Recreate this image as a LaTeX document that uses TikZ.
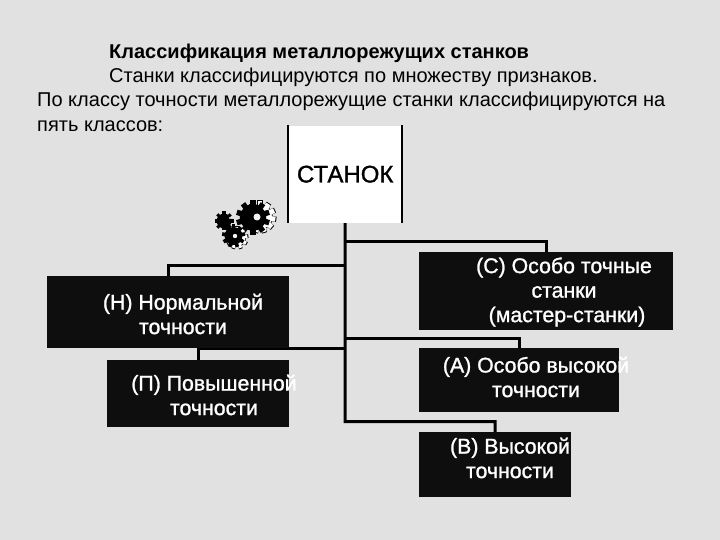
\documentclass[tikz,border=0pt]{standalone}
\usepackage{fontspec}
\setmainfont{Liberation Sans}
\newfontfamily\heavyfont[FakeBold=1.2]{Liberation Sans}
\usetikzlibrary{backgrounds}
\definecolor{bgc}{HTML}{E1E1E1}
\definecolor{boxc}{HTML}{0E0E0E}
\newcommand{\gearshape}[5]{% x y r nteeth fill
  \foreach \a in {1,...,#4}{
    \fill[#5,rotate around={\a*360/#4:(#1,#2)}] (#1-0.16*#3,#2-#3) rectangle (#1+0.16*#3,#2-0.7*#3);
  }
  \fill[#5] (#1,#2) circle ({0.78*#3});
}
\tikzset{
  x=1pt,y=-1pt,
  conn/.style={draw=black,line width=3pt},
  darkbox/.style={fill=boxc,draw=none,minimum width=#1,inner sep=0pt,anchor=north west,text=white},
  bodyline/.style={anchor=base west,inner sep=0pt,font=\fontsize{20}{24}\selectfont,text=black},
  boxtext/.style={anchor=center,inner sep=0pt,text=white,align=center,font=\heavyfont\fontsize{21.3}{24.5}\selectfont},
}
\begin{document}
\begin{tikzpicture}
\useasboundingbox (0,0) rectangle (720,540);
% title text
\node[bodyline,font=\bfseries\fontsize{20}{24}\selectfont] (t1) at (109,59) {Классификация металлорежущих станков};
\node[bodyline] (t2) at (109,83) {Станки классифицируются по множеству признаков.};
\node[bodyline] (t3) at (37,107) {По классу точности металлорежущие станки классифицируются на};
\node[bodyline] (t4) at (37,131.5) {пять классов:};
% root
\node[fill=white,minimum width=112pt,minimum height=97pt,inner sep=0pt,anchor=north west,font=\heavyfont\fontsize{24}{28}\selectfont] (stanok) at (289,125.5) {СТАНОК};
\draw[line width=2pt] ([xshift=-1pt]stanok.north west) -- ([xshift=-1pt]stanok.south west);
\draw[line width=2pt] ([xshift=1pt]stanok.north east) -- ([xshift=1pt]stanok.south east);
% boxes
\node[darkbox=242pt,minimum height=72pt] (nH) at (47,276) {};
\node[darkbox=182pt,minimum height=67pt] (nP) at (107,360) {};
\node[darkbox=254pt,minimum height=78pt] (nC) at (419,252) {};
\node[darkbox=200pt,minimum height=64pt] (nA) at (419,348) {};
\node[darkbox=152pt,minimum height=65pt] (nB) at (419,432) {};
% box texts
\node[boxtext] (tH) at (183,314) {(Н) Нормальной\\точности};
\node[boxtext] (tP) at (214,395) {(П) Повышенной\\точности};
\node[boxtext] (tC) at (564,292) {(С) Особо точные\\станки\\\hspace*{6pt}(мастер-станки)};
\node[boxtext] (tA) at (536,377) {(А) Особо высокой\\точности};
\node[boxtext] (tB) at (510,458) {(В) Высокой\\точности};
% connectors
\coordinate (jH) at (345,265.5);
\coordinate (jC) at (345,241);
\coordinate (jP) at (345,348);
\coordinate (jA) at (345,338);
\coordinate (jB) at (345,421.5);
\begin{scope}[on background layer]
\fill[bgc] (0,0) rectangle (720,540);
\draw[conn] (stanok.south) -- (jB) -| (nB.north);
\draw[conn] (jC) -| (nC.north);
\draw[conn] (jA) -| (nA.north);
\draw[conn] (jH) -| (nH.north);
\draw[conn] (jP) -| (nP.north);
\end{scope}
% gears
\gearshape{260}{217}{16.5}{11}{black}
\gearshape{260}{217}{15.5}{11}{white}
\gearshape{253}{217.5}{17}{10}{black}
\fill[bgc!40!white] (257,217) circle (3.5);
\gearshape{237}{238}{11.5}{9}{black}
\gearshape{237}{238}{10.5}{9}{white}
\gearshape{233.5}{236}{11.5}{9}{black}
\gearshape{224}{221}{9.5}{8}{black}
\fill[bgc!40!white] (235,236) circle (2.2);
\fill[bgc!40!white] (230,218) circle (1.2);
\end{tikzpicture}
\end{document}
